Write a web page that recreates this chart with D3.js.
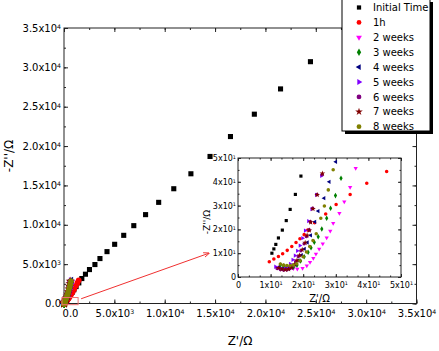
<!DOCTYPE html>
<html>
<head>
<meta charset="utf-8">
<script src="https://cdn.jsdelivr.net/npm/d3@7"></script>
<style>
    body { margin: 0; background: #fff; }
    text { font-family: "DejaVu Sans", sans-serif; fill: #000; }
</style>
</head>
<body>
<div id="chart"></div>
<script>
// Series names, as in the legend
var seriesNames = ["Initial Time", "1h", "2 weeks", "3 weeks", "4 weeks",
                   "5 weeks", "6 weeks", "7 weeks", "8 weeks"];

// [Z' , -Z''] in ohm, high frequency first
var initialTime = [[10.4,10.0],[11.0,11.8],[11.6,13.7],[12.4,16.4],[13.6,19.7],[14.8,23.7],[16.0,28.4],
    [17.6,34.7],[19.3,42.4],[45,75],[80,130],[130,210],[200,330],[280,470],[380,640],[500,850],
    [640,1100],[800,1400],[980,1750],[1200,2150],[1470,2620],[1770,3170],[2130,3720],[2530,4310],
    [3070,4950],[3570,5710],[4270,6590],[5030,7520],[5930,8660],[6930,9890],[8100,11290],
    [9400,12850],[10900,14580],[12600,16480],[14500,18680],[16530,21210],[18900,24050],
    [21500,27260],[24470,30720]];
var oneHour = [[9.6,6.4],[11.0,7.6],[12.4,8.6],[13.7,9.8],[15.1,11.2],[16.5,12.8],[17.8,14.5],
    [19.0,16.1],[20.3,17.8],[21.4,19.7],[23.5,22.8],[26.9,26.5],[30.1,30.5],[34.4,34.7],[39.5,39.4],
    [45.6,44.3],[55,52],[70,68],[95,95],[130,140],[180,210],[250,310],[340,450],[450,640],[580,880],
    [720,1160],[870,1480],[1020,1850],[1180,2250],[1330,2620],[1460,2950]];
var twoWeeks = [[15.0,4.4],[16.0,3.9],[17.0,3.6],[18.2,3.4],[19.8,3.7],[21.1,4.7],[22.1,6.2],
    [23.1,7.9],[23.9,9.7],[24.9,11.8],[26.0,14.0],[27.2,16.5],[28.3,19.3],[29.2,22.6],[31.1,26.8],
    [32.6,31.6],[34.4,37.7],[36.1,45.7],[42,56],[52,75],[70,110],[95,160],[130,240],[180,360],
    [240,520],[310,720],[390,960],[470,1250],[550,1580],[620,1950],[690,2350],[750,2750]];
var threeWeeks = [[13.0,5.0],[14.0,4.6],[15.0,4.3],[16.0,4.1],[17.0,4.2],[18.1,5.0],[19.2,6.7],
    [20.3,8.5],[21.5,10.4],[22.4,12.3],[23.4,14.6],[24.6,16.9],[25.7,20.2],[27.2,24.7],[28.4,28.9],
    [29.9,34.2],[31.6,41.5],[36,52],[45,70],[60,100],[85,150],[120,230],[165,340],[220,490],
    [290,690],[370,940],[450,1230],[530,1560],[600,1920],[670,2300],[730,2700]];
var fourWeeks = [[12.5,4.0],[13.5,3.5],[14.5,3.3],[15.5,3.4],[16.5,4.0],[17.5,5.2],[18.5,7.0],
    [19.5,9.2],[20.4,11.8],[21.3,14.5],[22.3,17.5],[23.6,23.2],[24.6,27.7],[26.4,33.1],[28.0,40.0],
    [30.0,48.4],[34,60],[42,80],[56,115],[78,170],[110,250],[150,360],[200,510],[260,700],
    [330,930],[400,1200],[470,1500],[540,1840],[600,2200],[660,2600],[710,2950]];
var fiveWeeks = [[11.5,4.3],[12.5,3.8],[13.5,3.5],[14.5,3.6],[15.3,4.2],[16.0,5.5],[16.8,7.2],
    [17.5,9.0],[18.2,11.0],[19.0,13.2],[19.8,16.3],[20.6,19.5],[21.6,23.5],[22.6,28.5],[24.0,34.5],
    [25.6,42.5],[30,55],[38,75],[50,105],[70,155],[100,230],[140,340],[190,490],[250,680],
    [320,910],[390,1180],[460,1480],[530,1820],[590,2180],[640,2550],[690,2900]];
var sixWeeks = [[12.0,3.6],[13.0,3.1],[14.0,2.9],[15.0,3.0],[16.0,3.6],[16.9,4.8],[17.7,6.5],
    [18.5,8.6],[19.3,11.0],[20.3,14.0],[21.0,17.0],[21.8,19.8],[22.2,23.2],[22.9,28.9],[24.2,34.7],
    [25.8,43.0],[31,55],[39,75],[51,105],[70,155],[98,230],[135,340],[180,490],[235,680],
    [300,910],[365,1180],[430,1480],[490,1820],[540,2180],[580,2500],[610,2800]];
var sevenWeeks = [[12.5,3.8],[13.5,3.3],[14.5,3.1],[15.5,3.3],[16.4,4.0],[17.3,5.3],[18.1,7.0],
    [18.9,9.1],[19.7,11.5],[20.6,14.4],[21.2,17.5],[21.9,19.6],[22.3,23.0],[23.0,28.6],[24.3,34.5],
    [25.9,43.5],[32,56],[40,76],[52,107],[72,158],[100,235],[138,345],[185,495],[240,690],
    [305,920],[370,1190],[435,1490],[495,1830],[545,2190],[585,2520],[620,2820]];
var eightWeeks = [[13.0,5.5],[14.0,5.0],[15.0,4.8],[16.0,4.8],[17.0,5.0],[18.0,5.6],[19.0,6.8],
    [20.0,8.5],[21.0,10.5],[22.0,12.8],[23.0,15.3],[24.0,18.2],[25.4,24.7],[26.5,29.8],[27.7,36.6],
    [29.2,45.1],[33,55],[40,75],[52,105],[68,150],[90,220],[120,320],[160,450],[210,620],
    [270,830],[340,1080],[410,1370],[480,1700],[550,2060],[620,2450],[690,2830]];

var seriesData = [initialTime, oneHour, twoWeeks, threeWeeks, fourWeeks,
                  fiveWeeks, sixWeeks, sevenWeeks, eightWeeks];

// Tick values
var mainTicks = [0, 5000, 10000, 15000, 20000, 25000, 30000, 35000];
var insetTicks = [0, 10, 20, 30, 40, 50];

// Marker colours (Origin palette)
var seriesColors = ["#000000", "#ff0000", "#ff00ff", "#008000", "#000080",
                    "#8000ff", "#800080", "#800000", "#808000"];

var width = 439, height = 351;

var svg = d3.select("#chart").append("svg")
    .attr("width", width)
    .attr("height", height);

// Main plot box
var main = {left: 64, right: 416.5, top: 28, bottom: 303.5};
var xMain = d3.scaleLinear().domain([0, 35000]).range([main.left, main.right]),
    yMain = d3.scaleLinear().domain([0, 35000]).range([main.bottom, main.top]);

// Inset box
var inset = {left: 238, right: 401, top: 158, bottom: 277};
var xIn = d3.scaleLinear().domain([0, 50]).range([inset.left, inset.right]),
    yIn = d3.scaleLinear().domain([0, 50]).range([inset.bottom, inset.top]);

// marker shapes: square, circle, down / diamond / left / right triangles, circle, star, circle
function symbolFor(i) {
    var types = [d3.symbolSquare, d3.symbolCircle, d3.symbolTriangle, d3.symbolDiamond,
                 d3.symbolTriangle, d3.symbolTriangle, d3.symbolCircle, d3.symbolStar, d3.symbolCircle];
    var rot = [0, 0, 180, 0, -90, 90, 0, 0, 0];
    return {type: types[i], rot: rot[i]};
}
function drawMarker(g, i, x, y, size) {
    var s = symbolFor(i);
    var k = s.type === d3.symbolTriangle ? 0.8 : (s.type === d3.symbolDiamond ? 0.9 : 1);
    g.append("path")
        .attr("d", d3.symbol().type(s.type).size(size * k)())
        .attr("transform", "translate(" + x + "," + y + ") rotate(" + s.rot + ")")
        .attr("fill", seriesColors[i]);
}

// label with "a x10^b" style
function sciLabel(sel, v, decimals) {
    sel.text(null);
    if (v === 0) { sel.text(decimals ? "0.0" : "0"); return; }
    var e = Math.floor(Math.log10(v) + 1e-9),
        m = v / Math.pow(10, e);
    sel.append("tspan").text(m.toFixed(decimals) + "x10");
    sel.append("tspan").attr("dy", "-0.45em").attr("font-size", "0.62em").text(e);
}

function minorValues(step, max) {
    var out = [];
    for (var v = 0; v <= max + 1e-9; v += step) out.push(v);
    return out;
}

// ---------- axes (major + minor ticks, all inside) ----------
function addAxes(g, xs, ys, box, majors, minX, minY, tickLen, fontSize, decimals, padX, padY) {
    var bottom = g.append("g").attr("transform", "translate(0," + box.bottom + ")")
        .call(d3.axisBottom(xs).tickValues(majors).tickSize(-tickLen).tickPadding(padX));
    var left = g.append("g").attr("transform", "translate(" + box.left + ",0)")
        .call(d3.axisLeft(ys).tickValues(majors).tickSize(-tickLen).tickPadding(padY));
    g.append("g").attr("transform", "translate(0," + box.top + ")")
        .call(d3.axisTop(xs).tickValues(majors).tickSize(-tickLen).tickFormat(""));
    g.append("g").attr("transform", "translate(" + box.right + ",0)")
        .call(d3.axisRight(ys).tickValues(majors).tickSize(-tickLen).tickFormat(""));
    // minor ticks
    g.append("g").attr("transform", "translate(0," + box.bottom + ")")
        .call(d3.axisBottom(xs).tickValues(minX).tickSize(-tickLen / 2).tickFormat(""));
    g.append("g").attr("transform", "translate(0," + box.top + ")")
        .call(d3.axisTop(xs).tickValues(minX).tickSize(-tickLen / 2).tickFormat(""));
    g.append("g").attr("transform", "translate(" + box.left + ",0)")
        .call(d3.axisLeft(ys).tickValues(minY).tickSize(-tickLen / 2).tickFormat(""));
    g.append("g").attr("transform", "translate(" + box.right + ",0)")
        .call(d3.axisRight(ys).tickValues(minY).tickSize(-tickLen / 2).tickFormat(""));

    g.selectAll(".domain").remove();
    g.selectAll(".tick line").attr("stroke", "#222");
    [bottom, left].forEach(function(a) {
        a.selectAll(".tick text")
            .attr("font-size", fontSize)
            .attr("font-family", "DejaVu Sans")
            .attr("fill", "#000")
            .each(function(d) { sciLabel(d3.select(this), d, decimals); });
    });
    g.append("rect")
        .attr("x", box.left).attr("y", box.top)
        .attr("width", box.right - box.left).attr("height", box.bottom - box.top)
        .attr("fill", "none").attr("stroke", "#222").attr("stroke-width", 1);
    return {bottom: bottom, left: left};
}

var mainAxes = svg.append("g");
var mAx = addAxes(mainAxes, xMain, yMain, main, mainTicks,
        minorValues(2500, 35000), minorValues(2500, 35000), 4, 10, 1, 6, 3);
// Origin nudges the x-axis zero label right, clear of the y-axis zero
mAx.bottom.selectAll(".tick text").filter(function(d) { return d === 0; })
    .attr("dx", 6);

// x axis title
svg.append("text")
    .attr("x", 240).attr("y", 345)
    .attr("text-anchor", "middle")
    .attr("font-size", 12)
    .text("Z'/\u03A9");

// y axis title
svg.append("text")
    .attr("transform", "translate(13,156) rotate(-90)")
    .attr("text-anchor", "middle")
    .attr("font-size", 12)
    .text("-Z''/\u03A9");

// main data, drawn series by series
seriesData.forEach(function(data, i) {
    var g = svg.append("g").attr("class", "series-" + i);
    data.forEach(function(d) {
        drawMarker(g, i, xMain(d[0]), yMain(d[1]), 26);
    });
});

// zoom box and arrow
var defs = svg.append("defs");
defs.append("marker")
    .attr("id", "arrow")
    .attr("viewBox", "0 0 10 10")
    .attr("refX", 9).attr("refY", 5)
    .attr("markerWidth", 6).attr("markerHeight", 6)
    .attr("orient", "auto")
    .append("path")
    .attr("d", "M0,1 L10,5 L0,9")
    .attr("fill", "none")
    .attr("stroke", "#f03030")
    .attr("stroke-width", 1.5);

svg.append("rect")
    .attr("x", xMain(-200)).attr("y", yMain(760))
    .attr("width", xMain(1400) - xMain(-200))
    .attr("height", yMain(-150) - yMain(760))
    .attr("fill", "none")
    .attr("stroke", "#f07070")
    .attr("stroke-width", 1);

svg.append("line")
    .attr("x1", xMain(1700)).attr("y1", yMain(600))
    .attr("x2", inset.left - 29).attr("y2", yIn(10))
    .attr("stroke", "#f03030")
    .attr("stroke-width", 1)
    .attr("marker-end", "url(#arrow)");

// ---------- inset ----------
var insetG = svg.append("g");
insetG.append("rect")
    .attr("x", inset.left).attr("y", inset.top)
    .attr("width", inset.right - inset.left).attr("height", inset.bottom - inset.top)
    .attr("fill", "#fff");

addAxes(insetG, xIn, yIn, inset, insetTicks,
        minorValues(10 / 3, 50), minorValues(5, 50), 3, 8, 0, 5, 2);

defs.append("clipPath").attr("id", "inset-clip")
    .append("rect")
    .attr("x", inset.left).attr("y", inset.top)
    .attr("width", inset.right - inset.left).attr("height", inset.bottom - inset.top);

var insetPts = insetG.append("g").attr("clip-path", "url(#inset-clip)");
seriesData.forEach(function(data, i) {
    var g = insetPts.append("g");
    data.filter(function(d) { return d[0] <= 52 && d[1] <= 52; })
        .forEach(function(d) {
            drawMarker(g, i, xIn(d[0]), yIn(d[1]), 10);
        });
});

insetG.append("text")
    .attr("x", (inset.left + inset.right) / 2).attr("y", 302)
    .attr("text-anchor", "middle")
    .attr("font-size", 10)
    .text("Z'/\u03A9");

insetG.append("text")
    .attr("transform", "translate(210,222) rotate(-90)")
    .attr("text-anchor", "middle")
    .attr("font-size", 9)
    .text("-Z''/\u03A9");

// ---------- legend ----------
var legend = svg.append("g").attr("class", "legend");
var lg = {x: 342, y: -1, w: 88, h: 132};
legend.append("rect")
    .attr("x", lg.x + 3).attr("y", lg.y + 3)
    .attr("width", lg.w).attr("height", lg.h)
    .attr("fill", "#000");
legend.append("rect")
    .attr("x", lg.x).attr("y", lg.y)
    .attr("width", lg.w).attr("height", lg.h)
    .attr("fill", "#fff")
    .attr("stroke", "#000")
    .attr("stroke-width", 1);

seriesNames.forEach(function(name, i) {
    var y = 7.5 + i * 14.9;
    drawMarker(legend, i, 359, y, 18);
    legend.append("text")
        .attr("x", 373).attr("y", y + 3.6)
        .attr("font-size", 10)
        .text(name);
});
</script>
</body>
</html>
